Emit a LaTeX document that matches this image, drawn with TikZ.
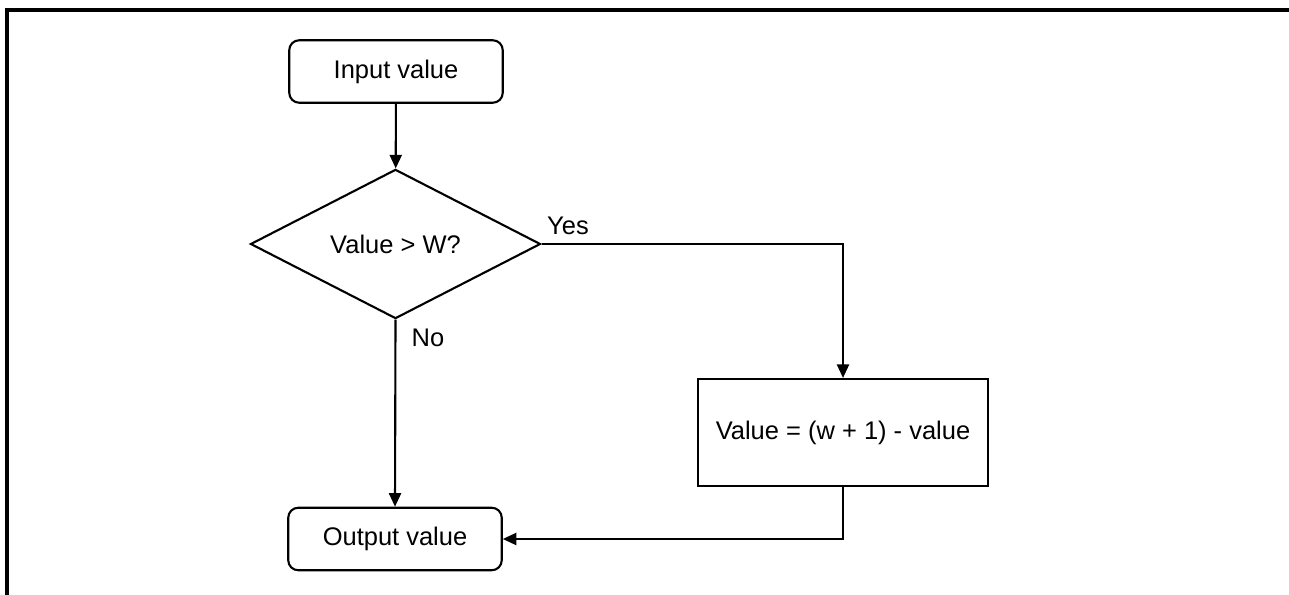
\documentclass[tikz,border=0pt]{standalone}
\usepackage{fontspec}
\setmainfont{Liberation Sans}
\usetikzlibrary{arrows.meta,shapes.geometric}
\newcommand{\LW}{1.2pt}
\newcommand{\FW}{1.8pt}

\begin{document}
\begin{tikzpicture}[
    every node/.style={font=\fontsize{14.5}{17}\selectfont},
    term/.style={rectangle, rounded corners=0.2cm, draw=black, line width=\LW,
                 minimum width=4.27cm, minimum height=1.25cm, inner sep=0pt},
    test/.style={diamond, draw=black, line width=\LW, inner sep=0pt,
                 minimum width=5.8cm, minimum height=2.88cm},
    proc/.style={rectangle, draw=black, line width=\LW,
                 minimum width=5.8cm, minimum height=2.14cm, inner sep=0pt},
    flow/.style={draw=black, line width=\LW, -{Triangle[length=0.27cm, width=0.24cm]}},
    tag/.style={inner sep=0pt},
  ]
  \useasboundingbox (0,0) rectangle (25.78,-11.9);

  %% ================= frame, cut at the right and bottom =================
  \draw[line width=\FW] (0.14,-11.9) -- (0.14,-0.2) -- (25.78,-0.2);

  %% ================= the steps =================
  \node[term] (in)   at (7.92,-1.43)  {Input value};
  \node[test] (dec)  at (7.91,-4.88)  {Value > W?};
  \node[proc] (calc) at (16.86,-8.65) {Value = (w + 1) - value};
  \node[term] (out)  at (7.9,-10.78)  {Output value};

  \node[tag] (yes) at (11.36,-4.52) {Yes};
  \node[tag] (no)  at (8.56,-6.76)  {No};

  %% ================= the flow =================
  \draw[flow] (in) -- (dec);
  \draw[flow] (dec.east) -| (calc.north);
  \draw[flow] (dec.south) -- (out.north);
  \draw[flow] (calc.south) |- (out.east);

\end{tikzpicture}
\end{document}
